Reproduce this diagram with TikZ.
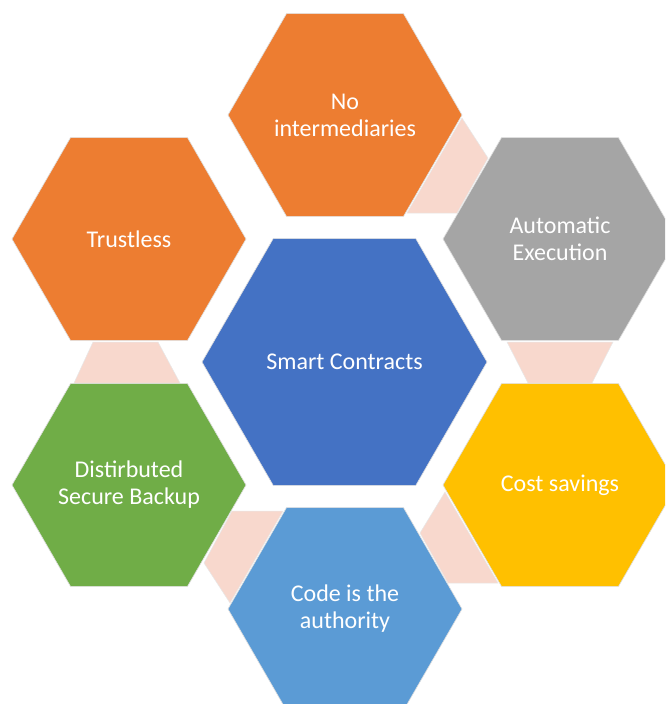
\documentclass[tikz,border=0pt]{standalone}
\usepackage{fontspec}
\setmainfont{Carlito}
\usetikzlibrary{shapes.geometric,backgrounds}
\definecolor{corange}{HTML}{ED7D31}
\definecolor{cgray}{HTML}{A5A5A5}
\definecolor{cyellow}{HTML}{FFC000}
\definecolor{cblue}{HTML}{4472C4}
\definecolor{clblue}{HTML}{5B9BD5}
\definecolor{cgreen}{HTML}{70AD47}
\definecolor{cpink}{HTML}{F8D8CD}
\begin{document}
\begin{tikzpicture}[x=1pt,y=-1pt,
  hexbox/.style={regular polygon, regular polygon sides=6, inner sep=0pt, outer sep=0pt,
    minimum size=234pt, draw=black!13, line width=0.6pt, text=white,
    font=\fontsize{24}{27}\selectfont, align=center},
  link/.style={fill=cpink, draw=black!9, line width=0.5pt}]
\clip (0,0) rectangle (665,704);
\fill[white] (0,0) rectangle (665,704);
% connectors (pink trapezoids)
\path[link] (462,118) -- (488,158) -- (457,213) -- (407,213) -- cycle;
\path[link] (507,342) -- (613,342) -- (592,383) -- (528,383) -- cycle;
\path[link] (445,492) -- (498,583) -- (448,583) -- (420,533) -- cycle;
\path[link] (232,511) -- (283,511) -- (230,603) -- (204,563) -- cycle;
\path[link] (93,342) -- (158,342) -- (180,383) -- (74,383) -- cycle;
% hexagons
\node[hexbox, fill=cblue, minimum size=285pt] (sc) at (344.5,362) {Smart Contracts};
\node[hexbox, fill=corange] (noint) at (345,115) {No\\intermediaries};
\node[hexbox, fill=cgray] (auto) at (560,239) {Automatic\\Execution};
\node[hexbox, fill=cyellow] (cost) at (560,485) {Cost savings};
\node[hexbox, fill=clblue] (code) at (345,609) {Code is the\\authority};
\node[hexbox, fill=cgreen] (dist) at (129,485) {Distirbuted\\Secure Backup};
\node[hexbox, fill=corange] (trust) at (129,239) {Trustless};
\end{tikzpicture}
\end{document}
